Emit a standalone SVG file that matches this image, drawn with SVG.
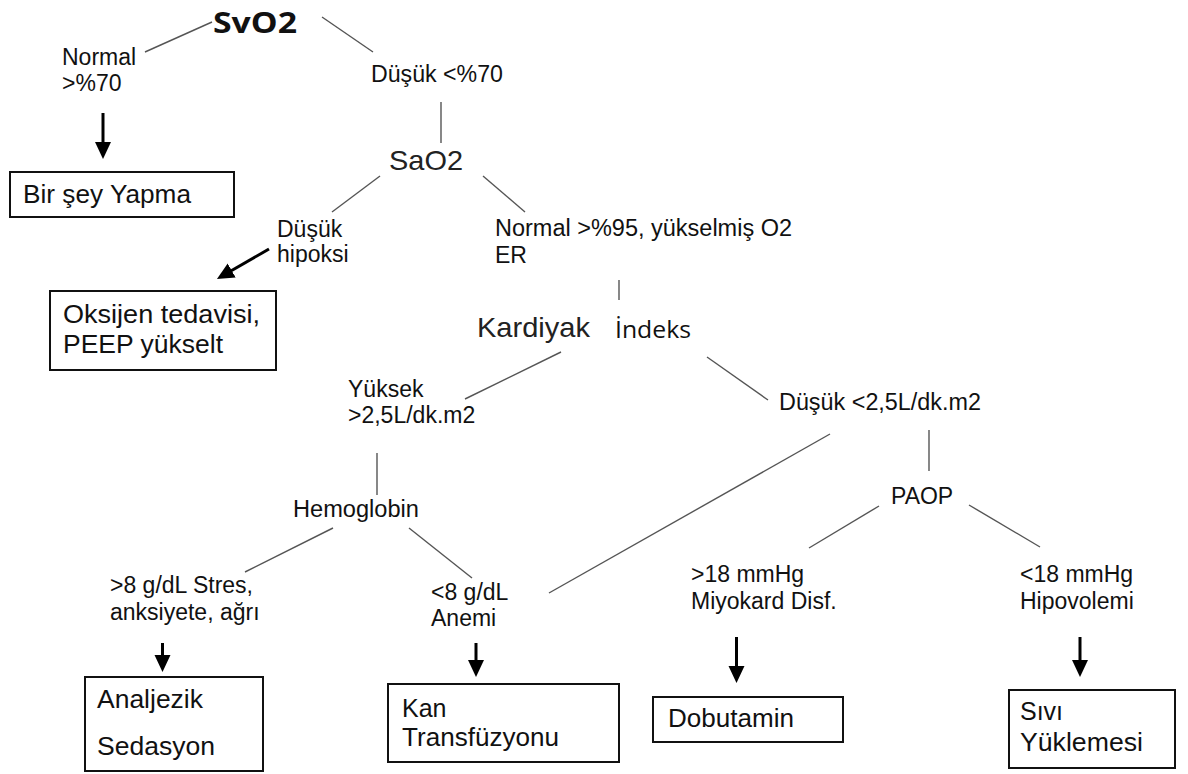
<svg xmlns="http://www.w3.org/2000/svg" width="1188" height="774" viewBox="0 0 1188 774">
<style>
.lbl{font-family:"Liberation Sans",Arial,sans-serif;font-size:23px;fill:#111}
.box{fill:#fff;stroke:#111;stroke-width:2}
.btx{font-family:"Liberation Sans",Arial,sans-serif;font-size:25px;fill:#111}
.big{font-family:"Liberation Sans",Arial,sans-serif;font-size:28px;fill:#222}
.thin{stroke:#555;stroke-width:1.4;fill:none}
.thick{stroke:#000;stroke-width:3;fill:none}
</style>
<defs>
<marker id="ah" markerUnits="userSpaceOnUse" markerWidth="18" markerHeight="18" viewBox="0 0 18 18" refX="10" refY="8" orient="auto">
<path d="M0,0 L17,8 L0,16 z" fill="#000"/>
</marker>
</defs>
<rect width="1188" height="774" fill="#fff"/>
<g id="connectors">
<line class="thin" x1="212" y1="22" x2="145" y2="52"/>
<line class="thin" x1="322" y1="17" x2="373" y2="52"/>
<line class="thin" x1="441" y1="102" x2="441" y2="143"/>
<line class="thin" x1="380" y1="176" x2="332" y2="212"/>
<line class="thin" x1="483" y1="176" x2="525" y2="212"/>
<line class="thin" x1="619" y1="280" x2="619" y2="300"/>
<line class="thin" x1="561" y1="352" x2="465" y2="399"/>
<line class="thin" x1="707" y1="357" x2="768" y2="400"/>
<line class="thin" x1="830" y1="434" x2="549" y2="593"/>
<line class="thin" x1="929" y1="430" x2="929" y2="471"/>
<line class="thin" x1="377" y1="453" x2="377" y2="495"/>
<line class="thin" x1="333" y1="528" x2="245" y2="572"/>
<line class="thin" x1="409" y1="528" x2="472" y2="578"/>
<line class="thin" x1="879" y1="506" x2="809" y2="548"/>
<line class="thin" x1="969" y1="505" x2="1040" y2="547"/>
<line class="thick" x1="103" y1="113" x2="103" y2="152" marker-end="url(#ah)"/>
<line class="thick" x1="269" y1="249" x2="223" y2="275.5" marker-end="url(#ah)"/>
<line class="thick" x1="162.5" y1="643" x2="162.5" y2="665" marker-end="url(#ah)"/>
<line class="thick" x1="476" y1="643" x2="476" y2="670" marker-end="url(#ah)"/>
<line class="thick" x1="736.5" y1="637" x2="736.5" y2="676" marker-end="url(#ah)"/>
<line class="thick" x1="1080" y1="637" x2="1080" y2="670" marker-end="url(#ah)"/>
</g>
<g id="svo2"><text x="213" y="33" font-family="'Open Sans','Liberation Sans',sans-serif" font-weight="700" font-size="28" fill="#111" textLength="84" lengthAdjust="spacingAndGlyphs">SvO2</text></g>
<g id="normal70"><text class="lbl" x="62" y="65">Normal</text><text class="lbl" x="62" y="91">&gt;%70</text></g>
<g id="dusuk70"><text class="lbl" x="371" y="82" textLength="132" lengthAdjust="spacingAndGlyphs">Düşük &lt;%70</text></g>
<g id="birsey"><rect class="box" x="10" y="172" width="224" height="45"/><text class="btx" x="23" y="203" textLength="168" lengthAdjust="spacingAndGlyphs">Bir şey Yapma</text></g>
<g id="sao2"><text class="big" x="389" y="170" textLength="74" lengthAdjust="spacingAndGlyphs">SaO2</text></g>
<g id="dusukhipoksi"><text class="lbl" x="277" y="237">Düşük</text><text class="lbl" x="277" y="262">hipoksi</text></g>
<g id="normal95"><text class="lbl" x="495" y="236" textLength="297" lengthAdjust="spacingAndGlyphs">Normal &gt;%95, yükselmiş O2</text><text class="lbl" x="495" y="263">ER</text></g>
<g id="oksijen"><rect class="box" x="50" y="291" width="226" height="79"/><text class="btx" x="63" y="323" textLength="197" lengthAdjust="spacingAndGlyphs">Oksijen tedavisi,</text><text class="btx" x="63" y="353" textLength="160" lengthAdjust="spacingAndGlyphs">PEEP yükselt</text></g>
<g id="kardiyak"><text class="big" x="477" y="337" font-size="27" textLength="113" lengthAdjust="spacingAndGlyphs">Kardiyak</text><text x="615" y="338" font-family="'Open Sans','Liberation Sans',sans-serif" font-size="24" fill="#111" textLength="76" lengthAdjust="spacingAndGlyphs">İndeks</text></g>
<g id="yuksek"><text class="lbl" x="348" y="397">Yüksek</text><text class="lbl" x="348" y="423">&gt;2,5L/dk.m2</text></g>
<g id="dusuk25"><text class="lbl" x="779" y="410" textLength="202" lengthAdjust="spacingAndGlyphs">Düşük &lt;2,5L/dk.m2</text></g>
<g id="hemoglobin"><text class="lbl" x="293" y="517" textLength="126" lengthAdjust="spacingAndGlyphs">Hemoglobin</text></g>
<g id="paop"><text class="lbl" x="891" y="504">PAOP</text></g>
<g id="stres"><text class="lbl" x="110" y="593">&gt;8 g/dL Stres,</text><text class="lbl" x="110" y="620">anksiyete, ağrı</text></g>
<g id="anemi"><text class="lbl" x="431" y="600">&lt;8 g/dL</text><text class="lbl" x="431" y="626">Anemi</text></g>
<g id="miyokard"><text class="lbl" x="691" y="582">&gt;18 mmHg</text><text class="lbl" x="691" y="609">Miyokard Disf.</text></g>
<g id="hipovolemi"><text class="lbl" x="1020" y="582">&lt;18 mmHg</text><text class="lbl" x="1020" y="609">Hipovolemi</text></g>
<g id="analjezik"><rect class="box" x="85" y="677" width="178" height="94"/><text class="btx" x="97" y="708" textLength="106" lengthAdjust="spacingAndGlyphs">Analjezik</text><text class="btx" x="97" y="755" textLength="118" lengthAdjust="spacingAndGlyphs">Sedasyon</text></g>
<g id="kan"><rect class="box" x="388" y="684" width="231" height="78"/><text class="btx" x="402" y="717">Kan</text><text class="btx" x="402" y="746" textLength="157" lengthAdjust="spacingAndGlyphs">Transfüzyonu</text></g>
<g id="dobutamin"><rect class="box" x="653" y="697" width="190" height="45"/><text class="btx" x="668" y="727" textLength="126" lengthAdjust="spacingAndGlyphs">Dobutamin</text></g>
<g id="sivi"><rect class="box" x="1009" y="690" width="166" height="78"/><text class="btx" x="1020" y="720">Sıvı</text><text class="btx" x="1020" y="751" textLength="123" lengthAdjust="spacingAndGlyphs">Yüklemesi</text></g>
</svg>
